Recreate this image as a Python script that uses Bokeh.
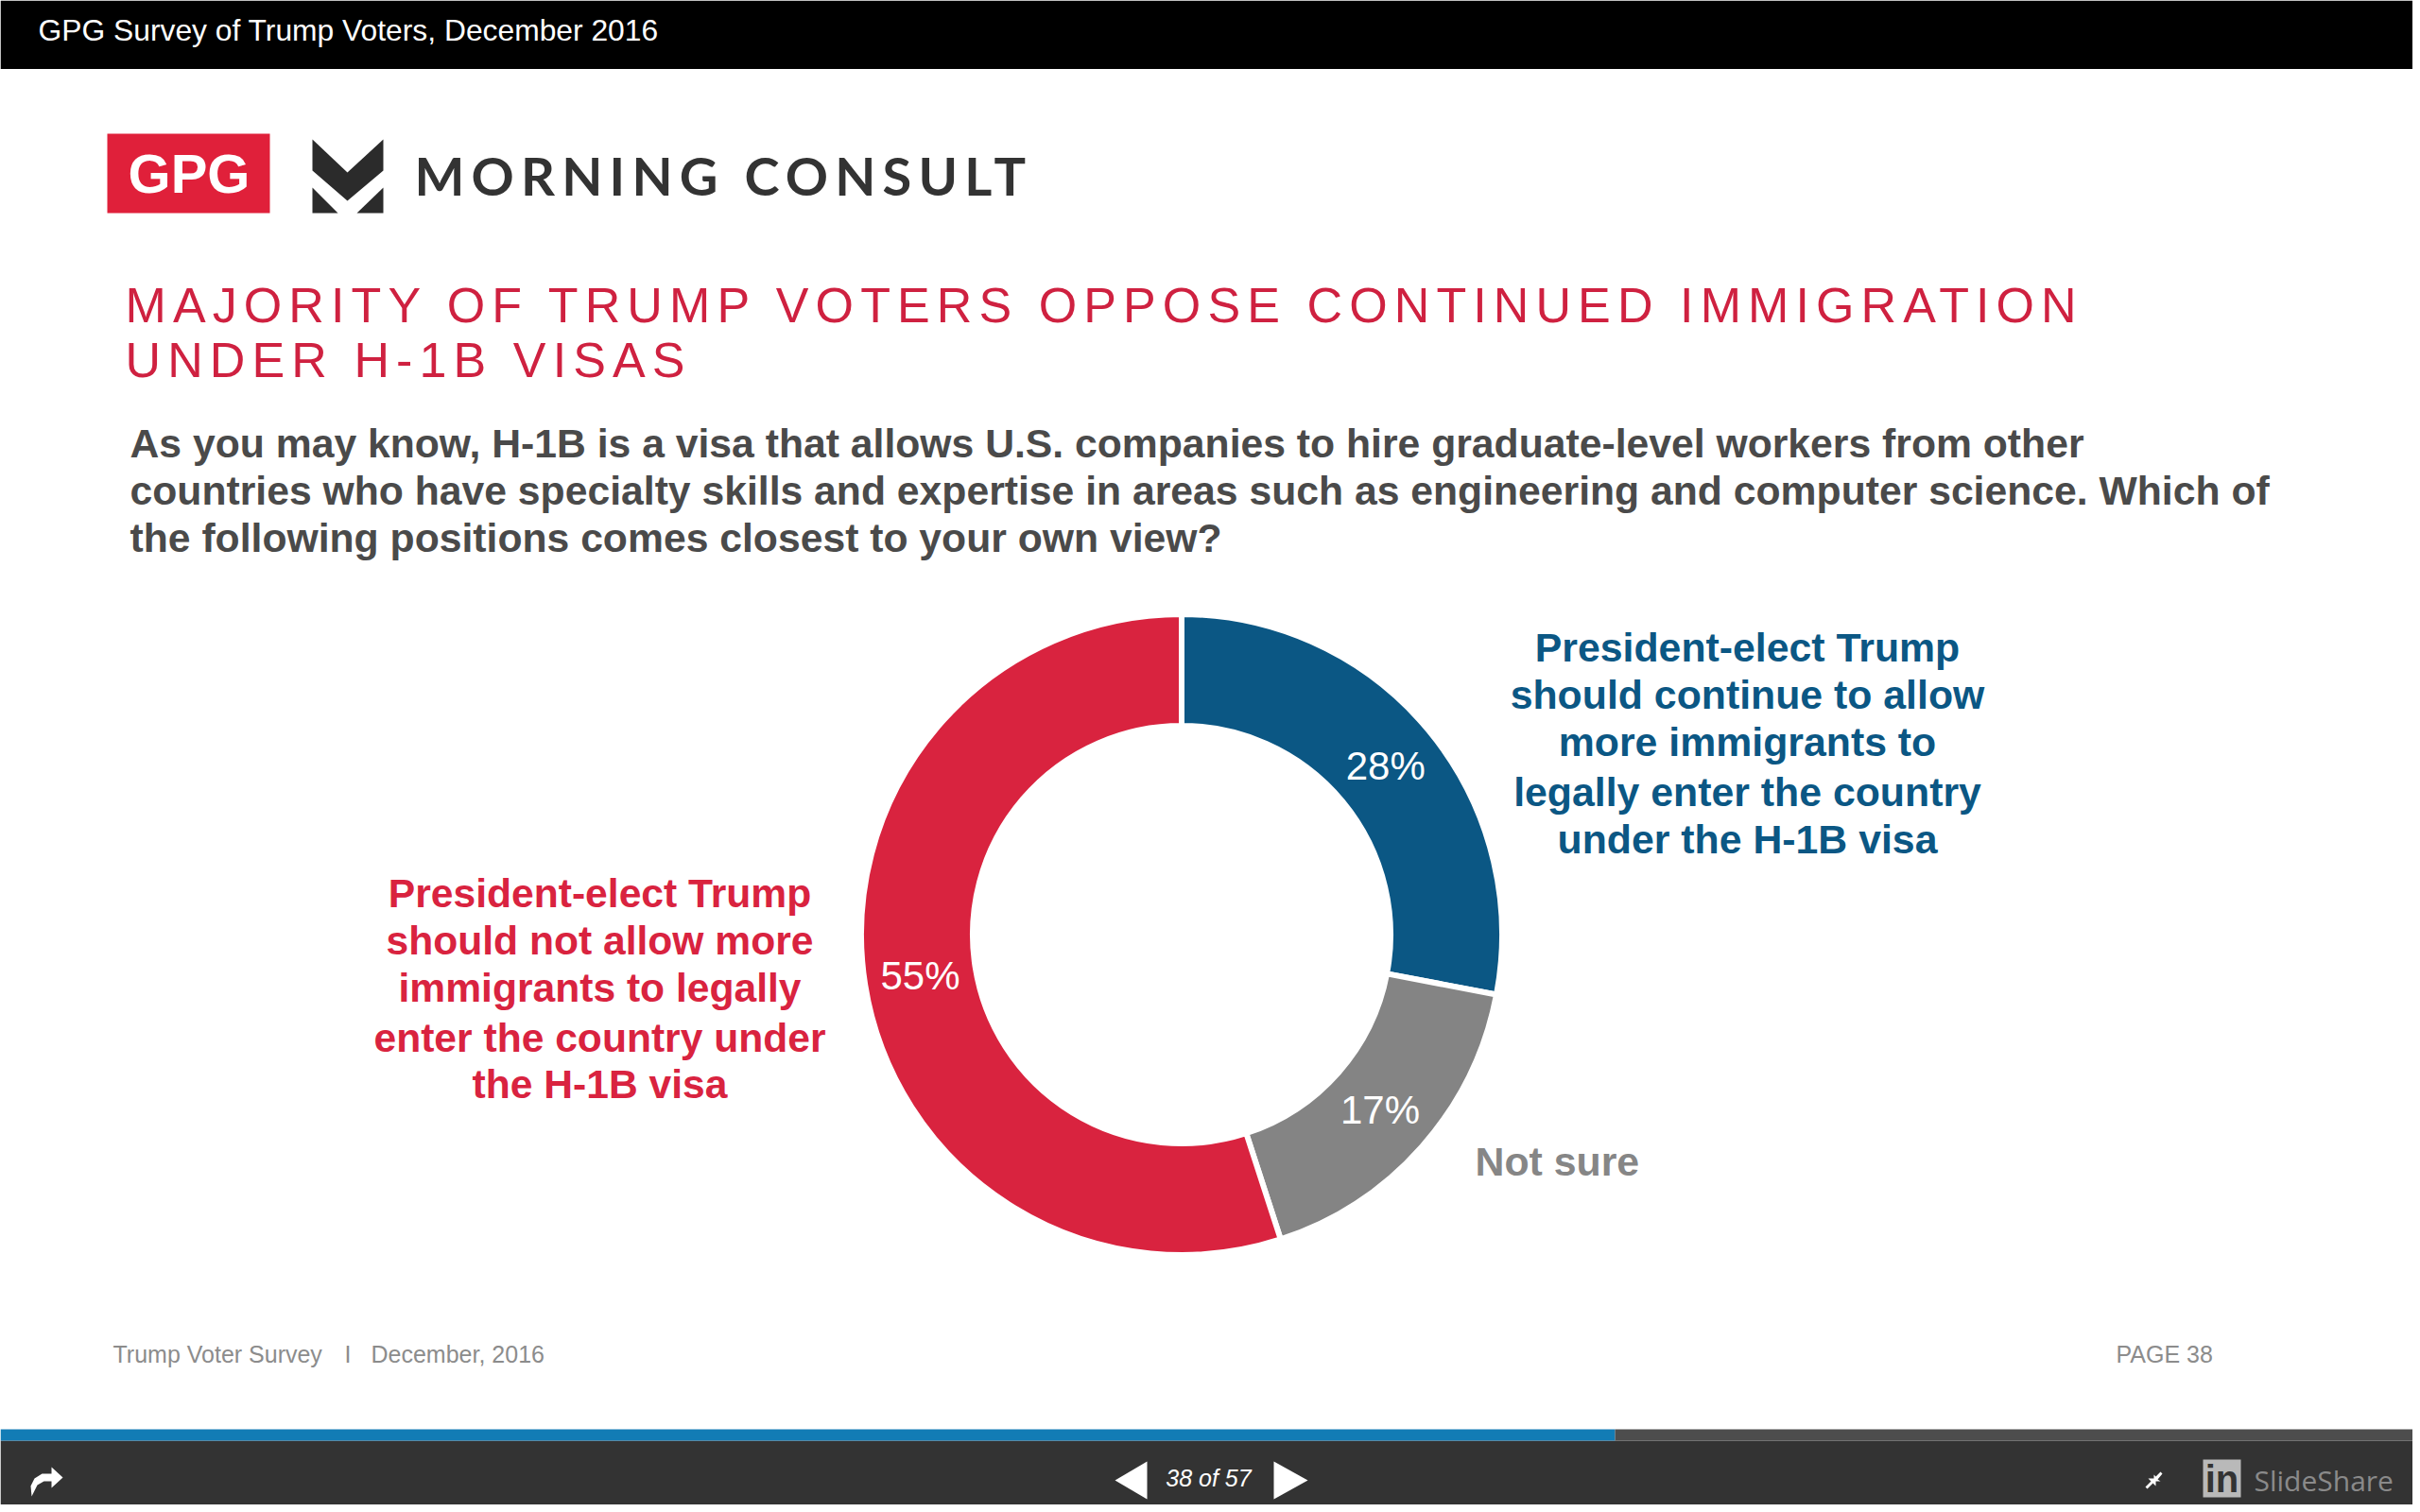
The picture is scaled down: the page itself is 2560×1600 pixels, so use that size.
from bokeh.plotting import figure
from bokeh.layouts import column, row
from bokeh.models import Range1d
from bokeh.core.properties import value
from bokeh.embed import file_html
from bokeh.resources import INLINE
import math

# ---- data -------------------------------------------------------------
categories = ["Continue to allow", "Not sure", "Do not allow"]
shares = [28, 17, 55]
share_labels = ["28%", "17%", "55%"]
slice_colors = ["#0B5784", "#848484", "#D9233F"]

bar_title = "GPG Survey of Trump Voters, December 2016"
title_lines = ["MAJORITY OF TRUMP VOTERS OPPOSE CONTINUED IMMIGRATION", "UNDER H-1B VISAS"]
question_lines = [
    "As you may know, H-1B is a visa that allows U.S. companies to hire graduate-level workers from other",
    "countries who have specialty skills and expertise in areas such as engineering and computer science. Which of",
    "the following positions comes closest to your own view?",
]
blue_lines = ["President-elect Trump", "should continue to allow", "more immigrants to",
              "legally enter the country", "under the H-1B visa"]
red_lines = ["President-elect Trump", "should not allow more", "immigrants to legally",
             "enter the country under", "the H-1B visa"]

SANS = value("Liberation Sans")
W = 2552
H = 1592
BASE = 0.35  # the glyph baseline sits this many ems under the requested y


def panel(top, bottom, left=0, right=W, **kw):
    p = figure(width=right - left, height=bottom - top, output_backend="svg", toolbar_location=None,
               x_range=Range1d(left, right), y_range=Range1d(1600 - bottom, 1600 - top),
               x_axis_type=None, y_axis_type=None, min_border=0, outline_line_color=None,
               background_fill_color="white", border_fill_color="white", **kw)
    return p


def Y(py):
    return 1600 - py


def label(p, x, py, s, size, color, align="left", font=SANS, style="normal"):
    p.text(x=[x], y=[Y(py - BASE * size)], text=[s], text_font=font, text_font_size=f"{size}px",
           text_color=color, text_align=align, text_baseline="alphabetic", text_font_style=style)


def box(p, x0, x1, py0, py1, color):
    p.quad(left=[x0], right=[x1], top=[Y(py0)], bottom=[Y(py1)], fill_color=color, line_color=None)


def poly(p, pts, color):
    p.patch([a for a, _ in pts], [Y(b) for _, b in pts], fill_color=color, line_color=None)


# ---- black bar ---------------------------------------------------------
bar = panel(0, 73)
box(bar, 0, W, 0, 73, "#000000")
label(bar, 40, 43, bar_title, 31.8, "#FFFFFF")

# ---- logos -------------------------------------------------------------
logo_l = panel(73, 290, 0, 430)
box(logo_l, 113, 285, 141, 225, "#E0203A")
label(logo_l, 199.5, 203, "GPG", 58, "#FFFFFF", align="center", style="bold")
poly(logo_l, [(330, 147), (367, 182), (405, 147), (405, 180), (367, 212), (330, 180)], "#2B2B2B")
poly(logo_l, [(330, 198), (357, 225), (330, 225)], "#2B2B2B")
poly(logo_l, [(405, 198), (377, 225), (405, 225)], "#2B2B2B")
logo_r = panel(73, 290, 430, W, stylesheets=[":host{letter-spacing:7.2px}"])
label(logo_r, 438, 205, "MORNING CONSULT", 56, "#333333", font=value("Lato"), style="bold")

# ---- slide title (letter-spaced) ---------------------------------------
head = panel(290, 420, stylesheets=[":host{letter-spacing:7.1px}"])
label(head, 132, 341, title_lines[0], 52, "#CF2140")
label(head, 132, 399, title_lines[1], 52, "#CF2140")

# ---- question, donut, footer, player bar -------------------------------
p = panel(420, H)
for py, s in zip([483, 533, 583], question_lines):
    label(p, 137, py, s, 42.7, "#4A4A4A", style="bold")

cx, cy = 1249.5, Y(988.5)
r_in, r_out, gap = 224, 336, 6
total = sum(shares)
start = 0
for v, c, t in zip(shares, slice_colors, share_labels):
    a0 = 2 * math.pi * start / total
    a1 = 2 * math.pi * (start + v) / total
    p.annular_wedge(x=[cx], y=[cy], inner_radius=r_in - gap / 2, outer_radius=r_out + gap / 2,
                    start_angle=[math.pi / 2 - a0], end_angle=[math.pi / 2 - a1], direction="clock",
                    fill_color=c, line_color="white", line_width=gap)
    mid = (a0 + a1) / 2
    rm = (r_in + r_out) / 2
    p.text(x=[cx + rm * math.sin(mid)], y=[cy + rm * math.cos(mid)], text=[t], text_font=SANS,
           text_font_size="42px", text_color="#FFFFFF", text_align="center", text_baseline="middle")
    start += v

for py, s in zip([699, 749, 799, 852, 902], blue_lines):
    label(p, 1848, py, s, 42.8, "#0B5784", align="center", style="bold")
for py, s in zip([959, 1009, 1059, 1112, 1161], red_lines):
    label(p, 634, py, s, 42.6, "#D9233F", align="center", style="bold")
label(p, 1560, 1243, "Not sure", 42.8, "#868686", style="bold")

label(p, 119, 1441, "Trump Voter Survey", 25, "#8C8C8C")
label(p, 364, 1441, "I", 25, "#8C8C8C")
label(p, 392, 1441, "December, 2016", 25, "#8C8C8C")
label(p, 2238, 1441, "PAGE 38", 25, "#8C8C8C")

box(p, 0, W, 1524, H, "#333333")
box(p, 0, 1708, 1512, 1524, "#127CB5")
box(p, 1708, W, 1512, 1524, "#4D4D4D")

# player controls
poly(p, [(33, 1583), (32, 1572), (36, 1564), (44, 1559), (54, 1559), (54, 1552), (66, 1563), (54, 1574),
         (54, 1567), (46, 1567), (39, 1571), (36, 1577)], "#FFFFFF")
poly(p, [(1213, 1546), (1179, 1566), (1213, 1586)], "#FFFFFF")
poly(p, [(1347, 1546), (1383, 1566), (1347, 1586)], "#FFFFFF")
label(p, 1278, 1572, "38 of 57", 25, "#FFFFFF", align="center", style="italic")
poly(p, [(2269, 1573), (2275, 1567), (2272, 1564), (2280, 1564), (2280, 1572), (2277, 1569), (2271, 1575)], "#FFFFFF")
poly(p, [(2287, 1559), (2282, 1565), (2285, 1567), (2278, 1567), (2278, 1560), (2280, 1562), (2285, 1557)], "#FFFFFF")
box(p, 2330, 2370, 1544, 1584, "#B9B9B9")
label(p, 2350, 1578, "in", 40, "#333333", align="center", style="bold")
label(p, 2384, 1576, "SlideShare", 30, "#8A8A8A", font=value("Open Sans"))

layout = column(bar, row(logo_l, logo_r, spacing=0), head, p, spacing=0)
open("out.html", "w").write(file_html(layout, INLINE))
